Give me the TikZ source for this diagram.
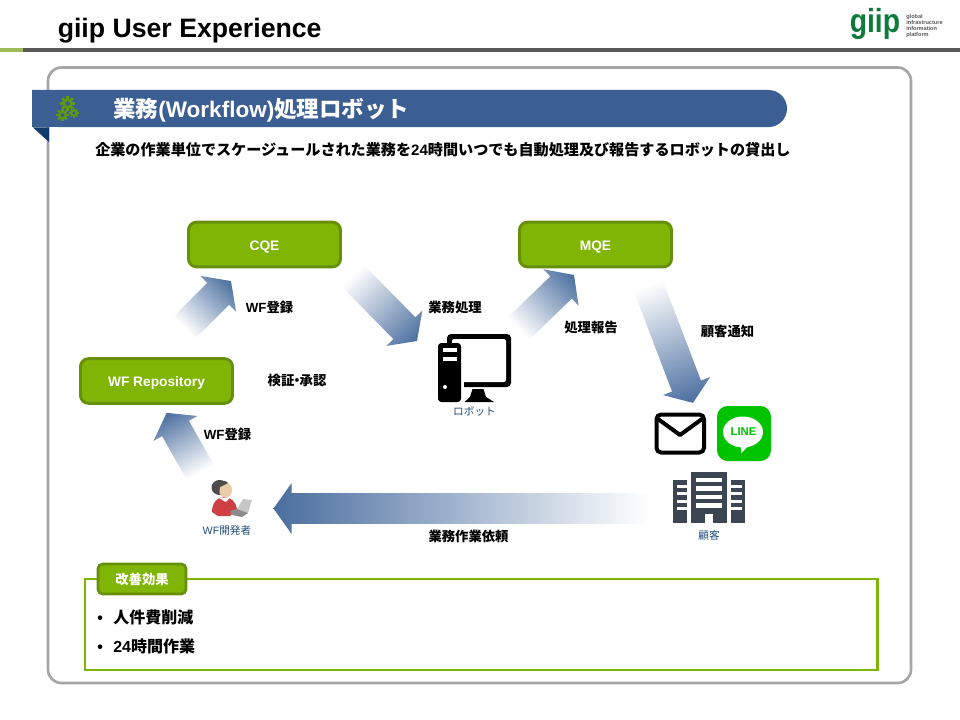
\documentclass[tikz,border=0pt]{standalone}
\usepackage{fontspec}
\setmainfont{Liberation Sans}
\newfontfamily\jp{Noto Sans CJK JP}
\usetikzlibrary{calc}

\definecolor{headgreen}{HTML}{9BBB59}
\definecolor{headgray}{HTML}{595959}
\definecolor{panelgray}{HTML}{A6A6A6}
\definecolor{bandblue}{HTML}{3B5F92}
\definecolor{foldblue}{HTML}{0F3A6E}
\definecolor{gearolive}{HTML}{5E9A0A}
\definecolor{boxgreen}{HTML}{80B505}
\definecolor{boxedge}{HTML}{668F0A}
\definecolor{arrowblue}{HTML}{4A6E9F}
\definecolor{captionblue}{HTML}{1F4E79}
\definecolor{buildgray}{HTML}{3B4652}
\definecolor{linegreen}{HTML}{00C300}
\definecolor{logogreen}{HTML}{0B7A3B}
\definecolor{shirtred}{HTML}{CF4045}
\definecolor{skintone}{HTML}{EBCBA8}

\tikzset{
    greenbox/.style = {draw = boxedge, fill = boxgreen, line width = 2.2pt, rounded corners = 6pt,
        minimum width = 114pt, minimum height = 33.5pt, text = white, text height = 8.8pt, text depth = 0pt,
        font = \fontsize{10.3}{12}\selectfont\bfseries},
    steplabel/.style = {font = \fontsize{10}{12}\selectfont\bfseries},
    caption/.style = {text = captionblue, font = \fontsize{8}{10}\selectfont},
    effect/.style = {anchor = west, font = \fontsize{12}{14}\selectfont\bfseries}
}

% block arrow with a white tail, from one named coordinate to another
\newcommand{\blockarrow}[2]{
    \path let \p1 = ($(#2) - (#1)$), \n1 = {veclen(\x1, \y1)}, \n2 = {atan2(\y1, \x1)} in
        \pgfextra{\xdef\arrowlen{\n1}\xdef\arrowang{\n2}};
    \shade [left color = white, right color = arrowblue, transform canvas = {shift = {(#1)}, rotate = \arrowang}]
        (0pt, -11.6pt) -- ({\arrowlen - 13.5pt}, -11.6pt) -- ({\arrowlen - 13.5pt}, -19pt)
        -- (\arrowlen, 0pt) -- ({\arrowlen - 13.5pt}, 19pt) -- ({\arrowlen - 13.5pt}, 11.6pt)
        -- (0pt, 11.6pt) -- cycle;
}

\newcommand{\gearicon}[3]{
    \begin{scope}[shift = {(#1, #2)}]
        \foreach \a in {0, 45, ..., 315}
            \fill [gearolive, rotate = \a] (-#3 * 0.2, #3 * 0.6) rectangle (#3 * 0.2, #3 * 1.15);
        \draw [gearolive, line width = #3 * 0.3pt] (0, 0) circle [radius = #3 * 0.6];
    \end{scope}
}

\begin{document}
\begin{tikzpicture}[x = 0.75pt, y = -0.75pt]
    \useasboundingbox (0, 0) rectangle (960, 720);

    % header
    \fill [headgreen] (0, 48) rectangle (23, 52.5);
    \fill [headgray] (23, 48) rectangle (960, 52.5);
    \node [anchor = west, inner sep = 0, font = \fontsize{20}{24}\selectfont\bfseries] (title) at (57.5, 31) {giip User Experience};
    \node [anchor = base west, inner sep = 0, text = logogreen, font = \fontsize{25}{30}\selectfont\bfseries] (logo) at (849.5, 33) {\scalebox{0.85}[1]{giip}};
    \node [anchor = west, inner sep = 0, align = left, text = headgray, font = \fontsize{4.2}{4.3}\selectfont\bfseries] (logotext) at (906, 26)
        {global\\infrastructure\\information\\platform};

    % panel and band
    \draw [panelgray, line width = 2pt, rounded corners = 10pt] (48, 67.5) rectangle (911, 683);
    \fill [foldblue] (33, 127.5) -- (49, 127.5) -- (49, 142) -- cycle;
    \fill [bandblue] (32, 90) -- (768.5, 90) arc (90:-90:13.9pt) -- (32, 127) -- cycle;
    \gearicon{67.5}{103.5}{6.5}
    \gearicon{62.5}{115}{5.5}
    \gearicon{74}{113}{4.3}
    \node [anchor = west, inner sep = 0, text = white, font = \fontsize{16.9}{20}\selectfont\bfseries] (bandtitle) at (113, 110)
        {{\jp 業務}(Workflow){\jp 処理ロボット}};
    \node [anchor = west, inner sep = 0, font = \fontsize{11.33}{14}\selectfont\bfseries] (summary) at (95, 150)
        {{\jp 企業の作業単位でスケージュールされた業務を}24{\jp 時間いつでも自動処理及び報告するロボットの貸出し}};

    % queues and repository
    \node [greenbox] (cqe) at (264.5, 244.5) {CQE};
    \node [greenbox] (mqe) at (595.5, 244.5) {MQE};
    \node [greenbox] (repo) at (156.5, 381) {WF Repository};

    % arrow ends
    \coordinate (repoOut) at (184, 328);
    \coordinate (cqeIn) at (231, 281);
    \coordinate (cqeOut) at (352, 275);
    \coordinate (robotIn) at (417, 341);
    \coordinate (robotOut) at (518, 329);
    \coordinate (mqeIn) at (574, 275);
    \coordinate (mqeOut) at (648, 285);
    \coordinate (mailIn) at (693, 403);
    \coordinate (clientOut) at (650, 508.5);
    \coordinate (devIn) at (273.5, 508.5);
    \coordinate (devOut) at (200.5, 472.5);
    \coordinate (repoIn) at (166.6, 412.8);

    \blockarrow{repoOut}{cqeIn}
    \blockarrow{cqeOut}{robotIn}
    \blockarrow{robotOut}{mqeIn}
    \blockarrow{mqeOut}{mailIn}
    \blockarrow{clientOut}{devIn}
    \blockarrow{devOut}{repoIn}

    \node [steplabel] (regA) at (269.5, 307.5) {WF{\jp 登録}};
    \node [steplabel] (work) at (455, 307.5) {\jp 業務処理};
    \node [steplabel] (report) at (591, 327) {\jp 処理報告};
    \node [steplabel] (notice) at (727.5, 331.5) {\jp 顧客通知};
    \node [steplabel] (check) at (297, 380) {\jp 検証\kern-3pt・\kern-3pt承認};
    \node [steplabel] (regB) at (227.5, 434.5) {WF{\jp 登録}};
    \node [steplabel] (request) at (468.5, 536) {\jp 業務作業依頼};

    % robot pc
    \fill [rounded corners = 3pt] (447, 334) rectangle (511, 387);
    \fill [white, rounded corners = 1.5pt] (452, 339) rectangle (506, 382);
    \fill [white] (461, 343) rectangle (464, 402);
    \fill [rounded corners = 2.5pt] (438, 343) rectangle (461, 402);
    \fill [white] (443, 348) rectangle (457, 352);
    \fill [white] (443, 357) rectangle (457, 361);
    \fill [white] (445, 387) circle (2);
    \fill (472.5, 389) -- (483.5, 389) -- (486, 397) -- (494, 402) -- (464.5, 402) -- (470, 397) -- cycle;
    \node [caption] (robot) at (474.5, 412) {\jp ロボット};

    % mail
    \draw [line width = 3pt, rounded corners = 3.5pt] (656.5, 414.5) rectangle (704, 452.5);
    \draw [line width = 3pt, line cap = round, line join = round] (658, 419) -- (680, 435) -- (702, 419);

    % line
    \fill [linegreen, rounded corners = 8pt] (717, 406) rectangle (771, 461);
    \fill [white] (743, 432) ellipse (20 and 15.5);
    \fill [white] (735, 446) -- (749, 445) -- (741, 453.5) -- (741, 447) -- cycle;
    \node [inner sep = 0, text = linegreen, font = \fontsize{8.5}{10}\selectfont\bfseries] (lineapp) at (743.5, 432) {LINE};

    % building
    \fill [buildgray] (690.7, 471.5) rectangle (726.5, 523);
    \fill [buildgray] (673, 480) rectangle (687, 523);
    \fill [buildgray] (731, 480) rectangle (745, 523);
    \foreach \y in {478, 486.4, 494.8, 503.2}
        \fill [white] (695.7, \y) rectangle (722, \y + 4.3);
    \foreach \y in {484.7, 492.1, 499.5, 506.9}
    {
        \fill [white] (676.5, \y) rectangle (687, \y + 3.3);
        \fill [white] (731, \y) rectangle (741.5, \y + 3.3);
    }
    \fill [white] (704.7, 514) rectangle (713, 523);
    \node [caption] (client) at (709, 535) {\jp 顧客};

    % developer
    \fill [shirtred] (212, 512) .. controls (212, 503) and (217, 497) .. (224, 497)
        .. controls (231, 497) and (236, 502) .. (237, 509) -- (230, 516) -- (218, 516) -- cycle;
    \fill [white] (218, 497.5) -- (230, 497.5) -- (226, 502) -- cycle;
    \fill [black!70] (219.5, 487.5) ellipse (8 and 7.5);
    \fill [skintone] (225.5, 490) ellipse (6.5 and 7.5);
    \fill [black!70] (212, 487) .. controls (213, 480) and (225, 479) .. (228, 483) -- (220, 487) -- (219, 495) -- cycle;
    \fill [black!22] (237, 509) -- (243, 499) -- (252, 500) -- (248, 513) -- cycle;
    \fill [black!45] (230, 511) -- (237, 509) -- (248, 513) -- (242, 517) -- (232, 515) -- cycle;
    \node [caption] (dev) at (227, 530) {WF{\jp 開発者}};

    % effects
    \draw [boxgreen, line width = 1.9pt] (85, 579) rectangle (877.5, 670);
    \node [draw = boxedge, fill = boxgreen, line width = 2pt, rounded corners = 3.5pt, minimum width = 66pt, minimum height = 22.5pt,
        text = white, font = \fontsize{10}{12}\selectfont\bfseries] (effects) at (142, 579) {\jp 改善効果};
    \node [effect, inner sep = 0] (bulletA) at (97, 619.5) {•};
    \node [effect, inner sep = 0] (cost) at (113, 617) {\jp 人件費削減};
    \node [effect, inner sep = 0] (bulletB) at (97, 648.5) {•};
    \node [effect, inner sep = 0] (hours) at (113, 646) {24{\jp 時間作業}};
\end{tikzpicture}
\end{document}
